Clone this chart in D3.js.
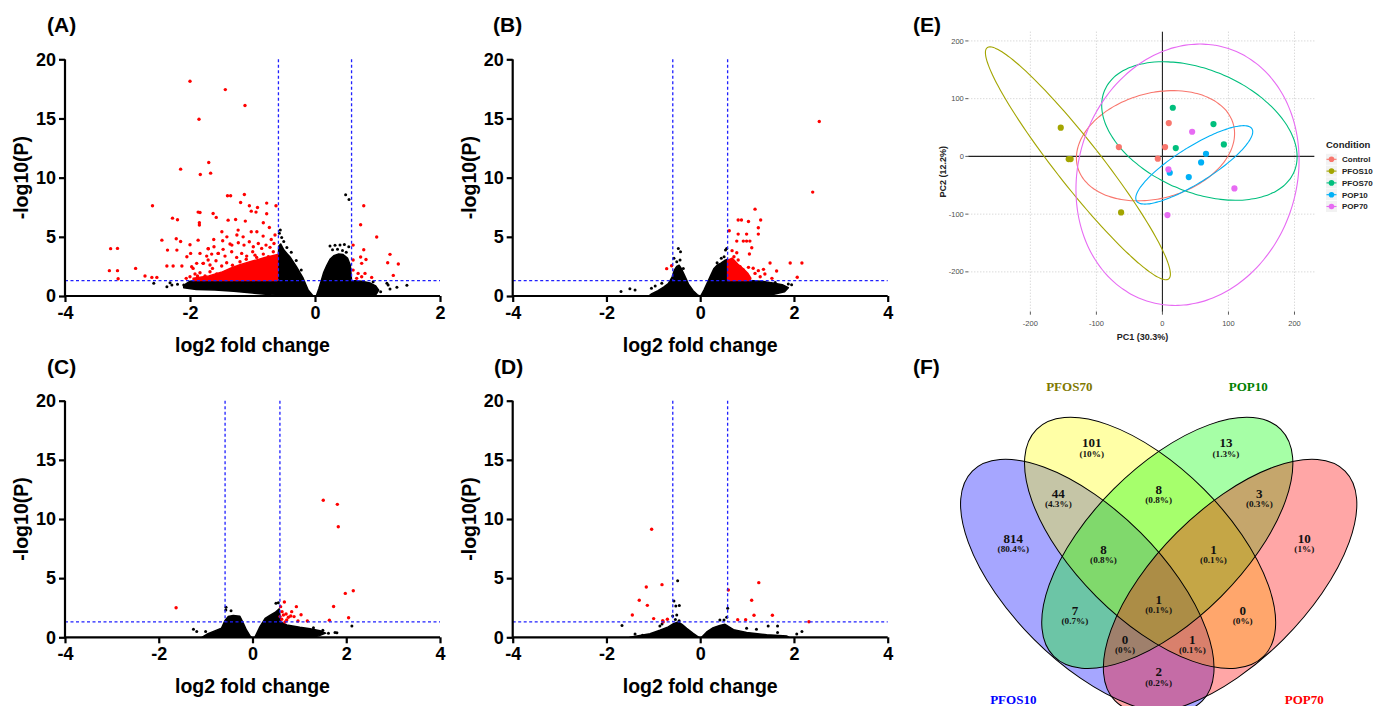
<!DOCTYPE html>
<html>
<head>
<meta charset="utf-8">
<script src="https://cdn.jsdelivr.net/npm/d3@7"></script>
<style>
  body { margin: 0; background: #fff; }
  svg { display: block; }
</style>
</head>
<body>
<svg id="chart"></svg>
<script>
// ---------- volcano data (log2 FC, -log10 P) ----------
const fcCut = 0.585;   // log2(1.5)
const pCut = 1.301;    // -log10(0.05)

// (A)
const aRed = [[-2.0,18.15],[-1.435,17.44],[-1.12,16.09],[-1.856,14.94],[-1.70,11.28],[-1.835,10.27],[-1.67,10.38],[-2.15,10.72],
  [-2.6,7.62],[-1.40,8.47],[-1.35,8.47],[-1.13,8.58],[-1.19,7.9],[-1.05,7.62],[-0.92,7.48],[-0.773,7.85],[-0.624,7.62],
  [-1.87,7.09],[-1.84,7.06],[-1.63,6.97],[-1.58,6.64],[-2.28,6.58],[-2.2,6.44],[-1.39,6.41],[-1.27,6.47],[-1.115,6.33],
  [-1.02,7.17],[-0.944,7.09],[-0.827,6.19],[-0.773,6.95],[-0.73,5.79],[-1.85,6.19],[-1.85,6.0],[-2.45,4.72],[-2.36,3.88],
  [-2.22,4.84],[-2.21,3.88],[-2.15,4.61],[-2.0,4.33],[-1.99,3.6],[-1.87,4.72],[-1.62,4.78],[-1.71,4.0],[-1.49,5.43],
  [-1.23,5.57],[-1.02,5.43],[-3.27,4.0],[-3.16,4.02],[-3.29,2.14],[-3.16,2.14],[-3.15,1.46],[-2.87,2.33],[-2.72,1.69],
  [-2.61,1.57],[-2.53,1.57],[-2.37,2.53],[-2.27,2.53],[-2.13,2.53],[-2.05,3.32],[-2.06,1.49],[-1.95,2.33],[-1.88,1.69],
  [-1.79,2.76],[-1.71,3.04],[-1.64,2.33],[-1.55,3.6],[-1.47,3.94],[-1.41,5.0],[-1.33,4.3],[-1.25,5.15],[-1.15,5.0],
  [-0.93,5.43],[-0.83,5.06],[-0.70,4.78],[-0.64,5.15],
  [-1.477,4.67],[-1.36,4.39],[-1.227,4.5],[-1.136,4.3],[-1.051,4.58],[-0.987,4.16],[-0.907,4.44],[-0.853,4.02],[-0.784,4.3],
  [-0.72,4.11],[-0.656,4.44],[-1.616,4.16],[-1.707,3.99],[-1.84,3.6],[-1.733,3.37],[-1.653,3.54],[-1.547,3.6],[-1.44,3.37],
  [-1.333,3.74],[-1.253,3.26],[-1.173,3.6],[-1.093,3.37],[-0.997,3.74],[-0.933,3.26],[-0.827,3.54],[-0.747,3.32],[-0.667,3.74],
  [-1.973,2.47],[-1.893,2.76],[-1.787,2.76],[-1.68,2.62],[-1.584,2.98],[-1.493,2.53],[-1.413,2.81],[-1.32,2.6],[-1.2,2.9],
  [-2.0,1.63],[-1.92,1.86],[-1.84,1.97],[-1.76,1.69],[-1.68,2.05],[-1.573,1.86],[-1.493,1.69],[-1.1,3.1],[-0.96,3.45],
  [0.78,7.62],[0.73,6.02],[0.987,4.98],[0.61,4.3],[0.78,3.91],[0.73,3.29],[0.816,3.09],[0.61,3.04],[0.747,2.76],
  [0.69,1.91],[0.8,1.91],[0.747,1.63],[0.907,1.57],[1.2,3.52],[1.163,2.81],[1.333,2.7],[1.253,1.74],[0.667,1.49],[0.61,2.19]];
const aBlack = [[0.49,8.55],[0.544,8.16],[-0.555,5.57],[-0.533,4.95],[-0.57,5.3],[0.24,4.22],[0.32,4.28],[0.4,4.3],
  [0.47,4.36],[0.54,4.16],[0.28,3.9],[0.36,3.95],[0.44,3.85],[0.5,3.7],[-2.58,1.07],[-2.37,0.79],[-2.32,1.12],[-2.29,0.93],
  [-2.1,0.93],[-2.2,1.0],[0.93,1.21],[0.96,0.79],[1.15,1.07],[1.17,0.93],[1.31,0.73],[1.47,0.9],[0.88,0.51],[1.05,0.35],[1.2,0.6],
  [-0.5,4.6],[-0.45,4.1],[-0.38,3.7],[-0.3,3.0],[-0.22,2.2]];
const aRedCloud = [[[-1.95,1.3],[-1.95,1.5],[-1.7,1.7],[-1.5,2.0],[-1.35,2.35],[-1.2,2.65],[-1.0,2.95],[-0.8,3.25],[-0.6,3.5],[-0.6,1.3]]];
const aBlackCloud = [
  [[-2.1,0.9],[-2.0,1.25],[-1.9,1.3],[-0.6,1.3],[-0.58,4.2],[-0.55,4.4],[-0.5,3.9],[-0.45,3.6],[-0.4,3.3],[-0.3,2.5],
   [-0.19,1.5],[-0.11,0.5],[-0.03,0],[-0.35,0],[-0.7,0.1],[-1.0,0.25],[-1.3,0.4],[-1.6,0.5],[-1.9,0.55],[-2.1,0.7]],
  [[0.02,0],[0.06,0.6],[0.1,1.3],[0.14,2.0],[0.19,2.6],[0.24,3.1],[0.3,3.4],[0.38,3.55],[0.45,3.5],[0.52,3.2],[0.565,2.6],
   [0.585,1.3],[0.75,1.25],[0.88,1.1],[0.97,0.85],[1.02,0.5],[0.98,0.15],[0.85,0]]];

// (B)
const bRed = [[2.54,14.74],[2.40,8.78],[1.17,7.34],[0.81,6.42],[0.88,6.42],[1.03,6.3],[1.29,6.42],[0.62,5.51],[1.24,5.77],
  [1.24,5.23],[0.81,5.23],[0.99,5.23],[0.78,4.64],[0.92,4.64],[0.99,4.64],[1.06,4.64],[1.1,4.08],[1.05,3.55],[0.68,3.83],
  [0.78,3.66],[0.72,3.32],[1.49,2.79],[1.92,2.79],[2.17,2.79],[2.07,1.58],[1.63,2.11],[-0.715,2.31],[-0.61,2.56],[1.35,2.25],
  [1.24,2.14],[1.17,1.91],[1.03,2.42],[1.13,2.34],[1.38,1.86],[1.28,1.63],[1.53,1.49],[0.92,2.2],[0.85,2.48],[0.74,2.76],
  [0.81,3.04],[0.62,2.96]];
const bBlack = [[-1.69,0.37],[-1.5,0.62],[-1.39,0.51],[-1.04,0.65],[-0.96,0.85],[-0.82,1.07],[-0.56,3.18],[-0.467,4.02],
  [-0.42,3.74],[-0.43,3.04],[-0.36,2.33],[-0.5,2.9],[0.54,3.88],[0.51,3.32],[0.36,2.81],[0.565,4.02],[0.45,3.2],
  [1.78,0.73],[1.88,1.01],[1.95,0.95],[1.6,1.15]];
const bRedCloud = [[[0.585,1.3],[0.585,3.0],[0.68,3.2],[0.8,2.7],[0.92,2.3],[1.02,1.9],[1.08,1.5],[1.05,1.3]]];
const bBlackCloud = [
  [[-1.1,0],[-1.05,0.15],[-0.9,0.45],[-0.78,0.75],[-0.68,1.05],[-0.6,1.6],[-0.55,2.2],[-0.5,2.5],[-0.45,2.6],[-0.4,2.3],
   [-0.33,1.7],[-0.25,1.0],[-0.15,0.45],[-0.06,0.1],[-0.01,0]],
  [[0.01,0],[0.08,0.5],[0.15,1.1],[0.22,1.7],[0.29,2.3],[0.36,2.6],[0.45,2.8],[0.52,3.0],[0.585,3.1],[0.585,1.3],[1.05,1.3],
   [1.3,1.25],[1.55,1.1],[1.75,0.95],[1.88,0.7],[1.8,0.35],[1.55,0.12],[1.3,0]]];

// (C)
const cRed = [[1.51,11.58],[1.81,11.24],[1.83,9.35],[2.15,3.94],[1.98,3.71],[1.73,2.6],[-1.63,2.5],[2.05,1.65],[1.64,1.45],
  [0.68,2.99],[0.936,2.59],[0.836,2.17],[1.036,1.91],[0.6,2.59],[0.63,2.17],[0.66,1.89],[0.716,1.97],[0.765,1.69],
  [0.815,1.8],[0.886,1.75],[0.73,1.46],[0.694,1.3],[0.97,1.38],[1.17,1.38],[0.587,1.75],[0.623,1.52]];
const cBlack = [[-0.458,2.25],[-0.57,2.3],[-0.565,2.54],[-1.26,0.68],[-1.19,0.48],[-1.0,0.5],[0.5,2.87],[0.55,2.93],
  [1.8,0.39],[2.12,0.96],[1.76,0.4],[1.62,0.35],[1.5,0.6],[1.3,0.8]];
const cRedCloud = [];
const cBlackCloud = [
  [[-1.08,0],[-0.95,0.3],[-0.83,0.5],[-0.66,0.78],[-0.59,1.4],[-0.52,1.75],[-0.41,1.85],[-0.27,1.78],[-0.21,1.3],
   [-0.13,0.62],[-0.05,0.1],[-0.02,0]],
  [[0.05,0],[0.16,0.9],[0.27,1.6],[0.37,1.85],[0.48,2.1],[0.57,2.4],[0.6,1.3],[0.73,1.04],[1.01,0.84],[1.23,0.72],
   [1.44,0.55],[1.56,0.35],[1.4,0.1],[1.2,0]]];

// (D)
const dRed = [[-1.036,9.13],[-0.815,4.45],[-1.15,4.25],[-1.3,3.13],[-1.128,2.7],[-1.448,1.89],[-0.993,1.58],[-0.8,1.41],
  [-0.7,1.52],[-0.79,1.3],[1.25,4.62],[0.6,4.0],[1.098,3.13],[1.148,1.86],[1.54,1.86],[0.8,1.49],[0.97,1.49],[2.32,1.32]];
const dBlack = [[-0.481,4.79],[-0.56,3.07],[-0.52,2.65],[-0.445,2.68],[-0.5,1.89],[-0.587,1.8],[-1.668,1.0],[-0.86,0.96],
  [-0.815,1.13],[0.586,2.45],[0.565,1.69],[0.508,1.46],[0.42,1.46],[0.99,0.76],[1.2,0.68],[1.45,0.96],[1.65,0.96],
  [1.65,0.4],[2.06,0.28],[2.17,0.5],[-1.39,0.28],[-1.23,0.17],[-0.53,1.5],[-0.45,1.4]];
const dRedCloud = [];
const dBlackCloud = [
  [[-1.5,0],[-1.07,0.3],[-0.86,0.6],[-0.68,0.88],[-0.57,1.15],[-0.47,1.3],[-0.39,1.1],[-0.29,0.75],[-0.15,0.33],[-0.03,0]],
  [[0.03,0],[0.14,0.45],[0.28,0.82],[0.42,1.0],[0.53,1.1],[0.71,0.65],[0.99,0.4],[1.42,0.22],[1.85,0.1],[1.9,0]]];

const yTicks = [0, 5, 10, 15, 20];
const xTicksA = [-4, -2, 0, 2];
const xTicksB = [-4, -2, 0, 2, 4];

// ---------- PCA data ----------
const pcaGroups = ["Control", "PFOS10", "PFOS70", "POP10", "POP70"];
const pcaColors = ["#F8766D", "#A3A500", "#00BF7D", "#00B0F6", "#E76BF3"];
const pcaGroup = ["Control","Control","Control","Control","PFOS10","PFOS10","PFOS10","PFOS10",
  "PFOS70","PFOS70","PFOS70","PFOS70","POP10","POP10","POP10","POP10","POP70","POP70","POP70","POP70"];
const pcaPC1 = [9.6, -66, 4, -7, -154, -142, -139, -62.6, 15.7, 77.3, 93, 20.2, 66, 58.6, 39.9, 11.1, 45, 9.1, 109, 7.6];
const pcaPC2 = [57.8, 16.2, 16.2, -4, 49.7, -4.6, -4.6, -97, 84.3, 56, 20.8, 14.4, 4.6, -10.4, -35.8, -28.3, 42.7, -22.5, -55.5, -101.7];
// 95% ellipses per group: centre, semi-axes, angle (deg)
const ellCx = [-10.5, -128, 56, 48.2, 38];
const ellCy = [18.5, -12, 44, -14.7, -31.8];
const ellA = [124, 243, 160.5, 107.6, 228.2];
const ellB = [90, 36, 102.8, 29.9, 166.7];
const ellTheta = [22, -55.7, -30.2, 36.2, 79.7];
const pcaTicks = [-200, -100, 0, 100, 200];

// ---------- Venn data ----------
const vennSets = ["PFOS10", "PFOS70", "POP10", "POP70"];
const vennFill = ["#0000FF", "#FFFF00", "#00FF00", "#FF0000"];
const vennTitleColor = ["#0000FF", "#807800", "#008000", "#FF0000"];
const vennRegions = ["PFOS10", "PFOS70", "POP10", "POP70", "PFOS10&PFOS70", "PFOS70&POP10", "POP10&POP70",
  "PFOS10&PFOS70&POP10", "PFOS70&POP10&POP70", "PFOS10&POP10", "all", "PFOS70&POP70",
  "PFOS10&POP10&POP70", "PFOS10&PFOS70&POP70", "PFOS10&POP70"];
const vennCounts = [814, 101, 13, 10, 44, 8, 3, 8, 1, 7, 1, 0, 0, 1, 2];

// ---------- layout ----------
const W = 1381, H = 706;
const svg = d3.select("#chart").attr("width", W).attr("height", H);
const sans = "'Liberation Sans', Arial, Helvetica, sans-serif";
const serif = "'Liberation Serif', 'Times New Roman', serif";

function panelLabel(txt, x, y) {
  svg.append("text").attr("x", x).attr("y", y).text(txt)
    .attr("font-family", sans).attr("font-weight", "bold").attr("font-size", 21);
}

function volcano(p) {
  const x = d3.scaleLinear().domain(p.xDomain).range([p.x0, p.x1]);
  const y = d3.scaleLinear().domain([0, 20]).range([p.y0, p.y1]);
  const g = svg.append("g");
  const poly = d3.line().x(d => x(d[0])).y(d => y(d[1])).curve(d3.curveLinearClosed);

  g.selectAll("path.bcl").data(p.blackCloud).join("path").attr("class", "bcl")
    .attr("d", poly).attr("fill", "#000").attr("stroke", "#000").attr("stroke-width", 1.5).attr("stroke-linejoin", "round");
  g.selectAll("path.rcl").data(p.redCloud).join("path").attr("class", "rcl")
    .attr("d", poly).attr("fill", "#FF0000").attr("stroke", "#FF0000").attr("stroke-width", 1.5).attr("stroke-linejoin", "round");
  g.selectAll("circle.bk").data(p.black).join("circle").attr("class", "bk")
    .attr("cx", d => x(d[0])).attr("cy", d => y(d[1])).attr("r", 1.5).attr("fill", "#000");
  g.selectAll("circle.rd").data(p.red).join("circle").attr("class", "rd")
    .attr("cx", d => x(d[0])).attr("cy", d => y(d[1])).attr("r", 1.7).attr("fill", "#FF0000");

  // thresholds
  const dash = { stroke: "#1F1FFF", "stroke-width": 1.3, "stroke-dasharray": "3,2.5" };
  const th = g.append("g");
  [-fcCut, fcCut].forEach(v => {
    const l = th.append("line").attr("x1", x(v)).attr("x2", x(v)).attr("y1", y(20)).attr("y2", y(pCut));
    Object.entries(dash).forEach(([k, val]) => l.attr(k, val));
  });
  const hl = th.append("line").attr("x1", x(p.xDomain[0])).attr("x2", x(p.xDomain[1])).attr("y1", y(pCut)).attr("y2", y(pCut));
  Object.entries(dash).forEach(([k, val]) => hl.attr(k, val));

  // axes
  const xa = g.append("g").attr("transform", `translate(0,${p.y0})`)
    .call(d3.axisBottom(x).tickValues(p.xTicks).tickSize(6).tickSizeOuter(0).tickPadding(4).tickFormat(d3.format("d")));
  const ya = g.append("g").attr("transform", `translate(${p.x0},0)`)
    .call(d3.axisLeft(y).tickValues(yTicks).tickSize(6).tickSizeOuter(0).tickPadding(3));
  [xa, ya].forEach(a => {
    a.selectAll("path, line").attr("stroke", "#000").attr("stroke-width", 2.2);
    a.selectAll("text").attr("font-family", sans).attr("font-weight", "bold").attr("font-size", 18).attr("fill", "#000");
  });
  xa.select(".domain").attr("d", `M${x(p.xDomain[0])},0H${x(p.xDomain[1])}`);
  ya.select(".domain").attr("d", `M0,${y(0)}V${y(20)}`);
  xa.selectAll("text").text(d => d < 0 ? "-" + Math.abs(d) : d);

  g.append("text").attr("x", (p.x0 + p.x1) / 2).attr("y", p.y0 + 56).attr("text-anchor", "middle")
    .attr("font-family", sans).attr("font-weight", "bold").attr("font-size", 19.5).text("log2 fold change");
  g.append("text").attr("transform", `translate(${p.x0 - 37},${(p.y0 + p.y1) / 2}) rotate(-90)`)
    .attr("text-anchor", "middle").attr("font-family", sans).attr("font-weight", "bold").attr("font-size", 19.5)
    .text("-log10(P)");
}

volcano({ xDomain: [-4, 2], xTicks: xTicksA, x0: 65, x1: 440, y0: 296, y1: 59.3,
  red: aRed, black: aBlack, redCloud: aRedCloud, blackCloud: aBlackCloud });
volcano({ xDomain: [-4, 4], xTicks: xTicksB, x0: 512.7, x1: 887.7, y0: 296, y1: 59.3,
  red: bRed, black: bBlack, redCloud: bRedCloud, blackCloud: bBlackCloud });
volcano({ xDomain: [-4, 4], xTicks: xTicksB, x0: 65, x1: 440, y0: 637.3, y1: 400.7,
  red: cRed, black: cBlack, redCloud: cRedCloud, blackCloud: cBlackCloud });
volcano({ xDomain: [-4, 4], xTicks: xTicksB, x0: 512.7, x1: 887.7, y0: 637.3, y1: 400.7,
  red: dRed, black: dBlack, redCloud: dRedCloud, blackCloud: dBlackCloud });

panelLabel("(A)", 47, 32);
panelLabel("(B)", 493, 32);
panelLabel("(C)", 47, 374);
panelLabel("(D)", 494, 374);
panelLabel("(E)", 913, 32);
panelLabel("(F)", 913, 374);

// ---------- (E) PCA ----------
(function () {
  const x = d3.scaleLinear().domain([-294, 230]).range([968.3, 1314.3]);
  const y = d3.scaleLinear().domain([-269, 216]).range([311.7, 31.7]);
  const col = d3.scaleOrdinal().domain(pcaGroups).range(pcaColors);
  const g = svg.append("g");

  g.selectAll("line.gx").data(pcaTicks).join("line").attr("class", "gx")
    .attr("x1", d => x(d)).attr("x2", d => x(d)).attr("y1", y.range()[0]).attr("y2", y.range()[1])
    .attr("stroke", "#C4C4C4").attr("stroke-width", 0.9).attr("stroke-dasharray", "1,2");
  g.selectAll("line.gy").data(pcaTicks).join("line").attr("class", "gy")
    .attr("y1", d => y(d)).attr("y2", d => y(d)).attr("x1", x.range()[0]).attr("x2", x.range()[1])
    .attr("stroke", "#C4C4C4").attr("stroke-width", 0.9).attr("stroke-dasharray", "1,2");

  // reference lines at 0
  g.append("line").attr("x1", x(0)).attr("x2", x(0)).attr("y1", y.range()[0]).attr("y2", y.range()[1])
    .attr("stroke", "#222").attr("stroke-width", 1.1);
  g.append("line").attr("y1", y(0)).attr("y2", y(0)).attr("x1", x.range()[0]).attr("x2", x.range()[1])
    .attr("stroke", "#222").attr("stroke-width", 1.1);

  // ticks + labels
  g.selectAll("line.tx").data(pcaTicks).join("line").attr("class", "tx")
    .attr("x1", d => x(d)).attr("x2", d => x(d)).attr("y1", y.range()[0]).attr("y2", y.range()[0] + 3)
    .attr("stroke", "#333").attr("stroke-width", 0.8);
  g.selectAll("text.tx").data(pcaTicks).join("text").attr("class", "tx")
    .attr("x", d => x(d)).attr("y", y.range()[0] + 14).attr("text-anchor", "middle")
    .attr("font-family", sans).attr("font-size", 7.5).attr("fill", "#4D4D4D").text(d => d);
  g.selectAll("line.ty").data(pcaTicks).join("line").attr("class", "ty")
    .attr("y1", d => y(d)).attr("y2", d => y(d)).attr("x1", x.range()[0] - 3).attr("x2", x.range()[0])
    .attr("stroke", "#333").attr("stroke-width", 0.8);
  g.selectAll("text.ty").data(pcaTicks).join("text").attr("class", "ty")
    .attr("x", x.range()[0] - 4.5).attr("y", d => y(d)).attr("dy", "0.35em").attr("text-anchor", "end")
    .attr("font-family", sans).attr("font-size", 7.5).attr("fill", "#4D4D4D").text(d => d);

  g.append("text").attr("x", x(0) - 20).attr("y", 340).attr("text-anchor", "middle")
    .attr("font-family", sans).attr("font-weight", "bold").attr("font-size", 9).attr("fill", "#222").text("PC1 (30.3%)");
  g.append("text").attr("transform", `translate(946,${(y.range()[0] + y.range()[1]) / 2}) rotate(-90)`)
    .attr("text-anchor", "middle").attr("font-family", sans).attr("font-weight", "bold").attr("font-size", 9)
    .attr("fill", "#222").text("PC2 (12.2%)");

  // ellipses
  const ell = pcaGroups.map((gName, i) => {
    const th = ellTheta[i] * Math.PI / 180;
    return d3.range(0, 361, 3).map(t => {
      const r = t * Math.PI / 180;
      const u = ellA[i] * Math.cos(r), v = ellB[i] * Math.sin(r);
      return [ellCx[i] + u * Math.cos(th) - v * Math.sin(th), ellCy[i] + u * Math.sin(th) + v * Math.cos(th)];
    });
  });
  const line = d3.line().x(d => x(d[0])).y(d => y(d[1])).curve(d3.curveBasisClosed);
  g.selectAll("path.ell").data(ell).join("path").attr("class", "ell")
    .attr("d", line).attr("fill", "none").attr("stroke", (d, i) => pcaColors[i]).attr("stroke-width", 1.1);

  g.selectAll("circle.pt").data(pcaPC1).join("circle").attr("class", "pt")
    .attr("cx", d => x(d)).attr("cy", (d, i) => y(pcaPC2[i])).attr("r", 3.1)
    .attr("fill", (d, i) => col(pcaGroup[i]));

  // legend
  const lg = g.append("g").attr("transform", "translate(1326,0)");
  lg.append("text").attr("x", 0).attr("y", 147.5).attr("font-family", sans).attr("font-weight", "bold")
    .attr("font-size", 9.5).attr("fill", "#222").text("Condition");
  const item = lg.selectAll("g.it").data(pcaGroups).join("g").attr("class", "it")
    .attr("transform", (d, i) => `translate(0,${159.3 + i * 11.8})`);
  item.append("rect").attr("x", 0).attr("y", -5.5).attr("width", 11).attr("height", 11).attr("fill", "#F2F2F2");
  item.append("line").attr("x1", 0.5).attr("x2", 10.5).attr("y1", 0).attr("y2", 0)
    .attr("stroke", d => col(d)).attr("stroke-width", 1.1);
  item.append("circle").attr("cx", 5.5).attr("cy", 0).attr("r", 2.8).attr("fill", d => col(d));
  item.append("text").attr("x", 16).attr("y", 0).attr("dy", "0.35em").attr("font-family", sans)
    .attr("font-weight", "bold").attr("font-size", 8).attr("fill", "#222").text(d => d);
})();

// ---------- (F) Venn ----------
(function () {
  // local units: 1 unit = 100 px, origin at the crossing centre of PFOS70 / POP10
  const vx = d3.scaleLinear().domain([-1, 1]).range([1058.7, 1258.7]);
  const vy = d3.scaleLinear().domain([-1, 1]).range([450, 650]);
  const vs = d3.scaleLinear().domain([0, 1]).range([0, 100]);
  const ellipses = [
    { cx: -0.714, cy: 0.36, a: 1.626, b: 0.754, rot: 45 },
    { cx: -0.086, cy: -0.071, a: 1.605, b: 0.76, rot: 45 },
    { cx: 0.086, cy: -0.071, a: 1.605, b: 0.76, rot: -45 },
    { cx: 0.714, cy: 0.36, a: 1.626, b: 0.754, rot: -45 }
  ];
  const g = svg.append("g");
  g.selectAll("ellipse.f").data(ellipses).join("ellipse").attr("class", "f")
    .attr("transform", d => `translate(${vx(d.cx)},${vy(d.cy)}) rotate(${d.rot})`)
    .attr("rx", d => vs(d.a)).attr("ry", d => vs(d.b))
    .attr("fill", (d, i) => vennFill[i]).attr("fill-opacity", 0.35);
  g.selectAll("ellipse.s").data(ellipses).join("ellipse").attr("class", "s")
    .attr("transform", d => `translate(${vx(d.cx)},${vy(d.cy)}) rotate(${d.rot})`)
    .attr("rx", d => vs(d.a)).attr("ry", d => vs(d.b))
    .attr("fill", "none").attr("stroke", "#000").attr("stroke-width", 1);

  const labelPos = [[-1.454, -0.117], [-0.67, -1.073], [0.672, -1.073], [1.456, -0.117], [-1.004, -0.567],
    [0, -0.607], [1.006, -0.567], [-0.552, -0.01], [0.548, -0.01], [-0.838, 0.6], [0, 0.493], [0.84, 0.6],
    [-0.337, 0.893], [0.336, 0.893], [0, 1.217]];
  const total = d3.sum(vennCounts);
  const pct = c => (+(c / total * 100).toFixed(1)) + "%";
  const lab = g.selectAll("g.lab").data(vennCounts).join("g").attr("class", "lab")
    .attr("transform", (d, i) => `translate(${vx(labelPos[i][0])},${vy(labelPos[i][1])})`);
  lab.append("text").attr("text-anchor", "middle").attr("y", 4.5).attr("font-family", serif)
    .attr("font-weight", "bold").attr("font-size", 13).attr("fill", "#111").text(d => d);
  lab.append("text").attr("text-anchor", "middle").attr("y", 14).attr("font-family", serif)
    .attr("font-weight", "bold").attr("font-size", 9.2).attr("fill", "#111").text(d => "(" + pct(d) + ")");

  const titlePos = [[-1.454, 1.493], [-0.894, -1.633], [0.896, -1.633], [1.456, 1.493]];
  g.selectAll("text.ttl").data(vennSets).join("text").attr("class", "ttl")
    .attr("x", (d, i) => vx(titlePos[i][0])).attr("y", (d, i) => vy(titlePos[i][1]) + 4.5)
    .attr("text-anchor", "middle").attr("font-family", serif).attr("font-weight", "bold").attr("font-size", 13)
    .attr("fill", (d, i) => vennTitleColor[i]).text(d => d);
})();
</script>
</body>
</html>
